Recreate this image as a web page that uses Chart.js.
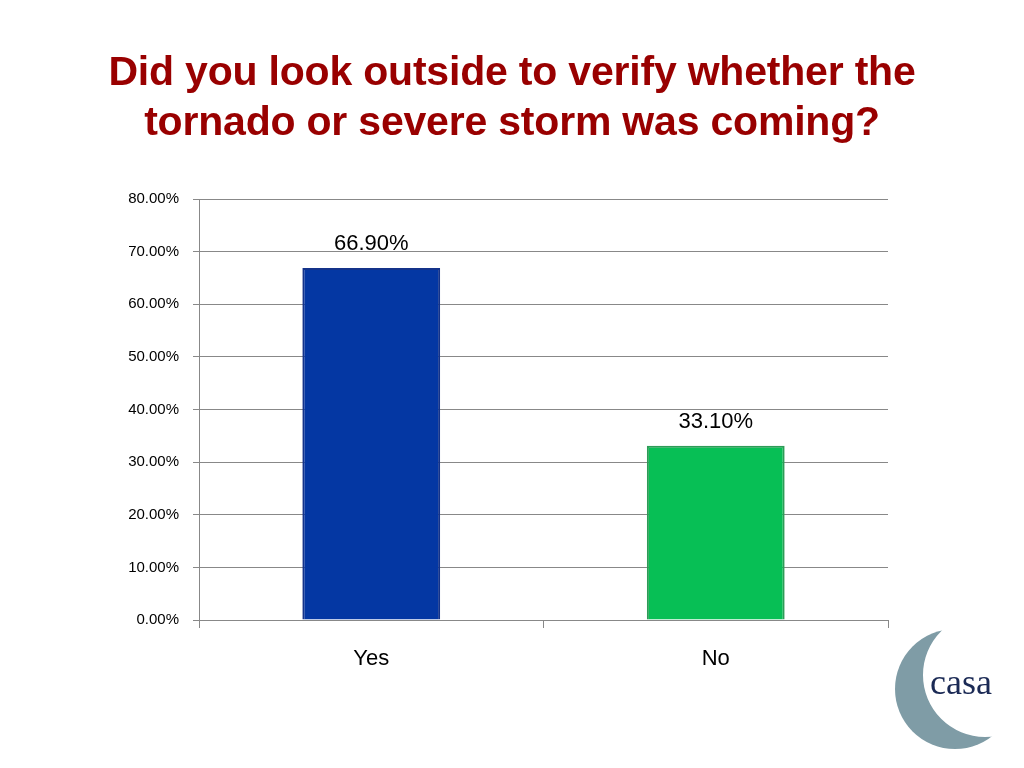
<!DOCTYPE html>
<html>
<head>
<meta charset="utf-8">
<script src="https://cdn.jsdelivr.net/npm/chart.js@4"></script>
<style>
  body { margin:0; background:#fff; }
  #wrap { position:relative; width:1024px; height:768px; }
  h1 { position:absolute; top:46px; left:0; width:1024px; margin:0; text-align:center;
       font-family:"Liberation Sans", Arial, sans-serif; font-weight:bold; font-size:41px;
       line-height:50px; color:#990000; letter-spacing:-0.2px; }
  canvas { position:absolute; left:0; top:0; }
</style>
</head>
<body>
<div id="wrap">
<canvas id="c" width="1024" height="768"></canvas>
<h1>Did you look outside to verify whether the<br>tornado or severe storm was coming?</h1>
</div>
<script>
const categories = ["Yes", "No"];
const values = [66.9, 33.1];
const barColors = ["#0437A3", "#07BF55"];
const borderColors = ["#14338A", "#2D9C57"];

const labelPlugin = {
    id: "labels",
    afterDatasetsDraw(chart) {
        const ctx = chart.ctx;
        const meta = chart.getDatasetMeta(0);
        ctx.save();
        ctx.font = "22px 'Liberation Sans', Arial, sans-serif";
        ctx.fillStyle = "#000";
        ctx.textAlign = "center";
        meta.data.forEach((bar, i) => {
            ctx.fillText(values[i].toFixed(2) + "%", bar.x, bar.y - 18);
        });
        ctx.restore();
    }
};

const logoPlugin = {
    id: "logo",
    afterDraw(chart) {
        const ctx = chart.ctx;
        ctx.save();
        ctx.beginPath();
        ctx.arc(955, 689, 60, 0, Math.PI * 2);
        ctx.clip();
        ctx.fillStyle = "#7F9CA6";
        ctx.beginPath();
        ctx.rect(880, 620, 144, 148);
        ctx.arc(985, 675, 62, 0, Math.PI * 2);
        ctx.fill("evenodd");
        ctx.restore();
        ctx.save();
        ctx.fillStyle = "#1B2A55";
        ctx.font = "36px 'Liberation Serif', serif";
        ctx.textAlign = "center";
        ctx.fillText("casa", 961, 694);
        ctx.restore();
    }
};

new Chart(
    document.getElementById("c"),
    {
        type: "bar",
        data: {
            labels: categories,
            datasets: [
                {
                    data: values,
                    backgroundColor: barColors,
                    borderColor: borderColors,
                    borderWidth: 2,
                    barPercentage: 0.8,
                    categoryPercentage: 0.5
                }
            ]
        },
        options: {
            responsive: false,
            animation: false,
            layout: { padding: { left: 100, right: 136, top: 199, bottom: 98 } },
            plugins: { legend: { display: false }, tooltip: { enabled: false } },
            scales: {
                y: {
                    min: 0,
                    max: 80,
                    ticks: {
                        stepSize: 10,
                        color: "#000",
                        padding: 14,
                        font: { size: 15, family: "'Liberation Sans', Arial, sans-serif" },
                        callback: v => v.toFixed(2) + "%"
                    },
                    grid: { color: "#888", tickLength: 6 },
                    border: { color: "#888" },
                    afterFit: s => { s.width = 99; }
                },
                x: {
                    ticks: {
                        color: "#000",
                        padding: 18,
                        font: { size: 22, family: "'Liberation Sans', Arial, sans-serif" }
                    },
                    grid: { offset: true, drawOnChartArea: false, color: "#888", tickLength: 8 },
                    border: { color: "#888" },
                    afterFit: s => { s.height = 50; }
                }
            }
        },
        plugins: [labelPlugin, logoPlugin]
    }
);
</script>
</body>
</html>
